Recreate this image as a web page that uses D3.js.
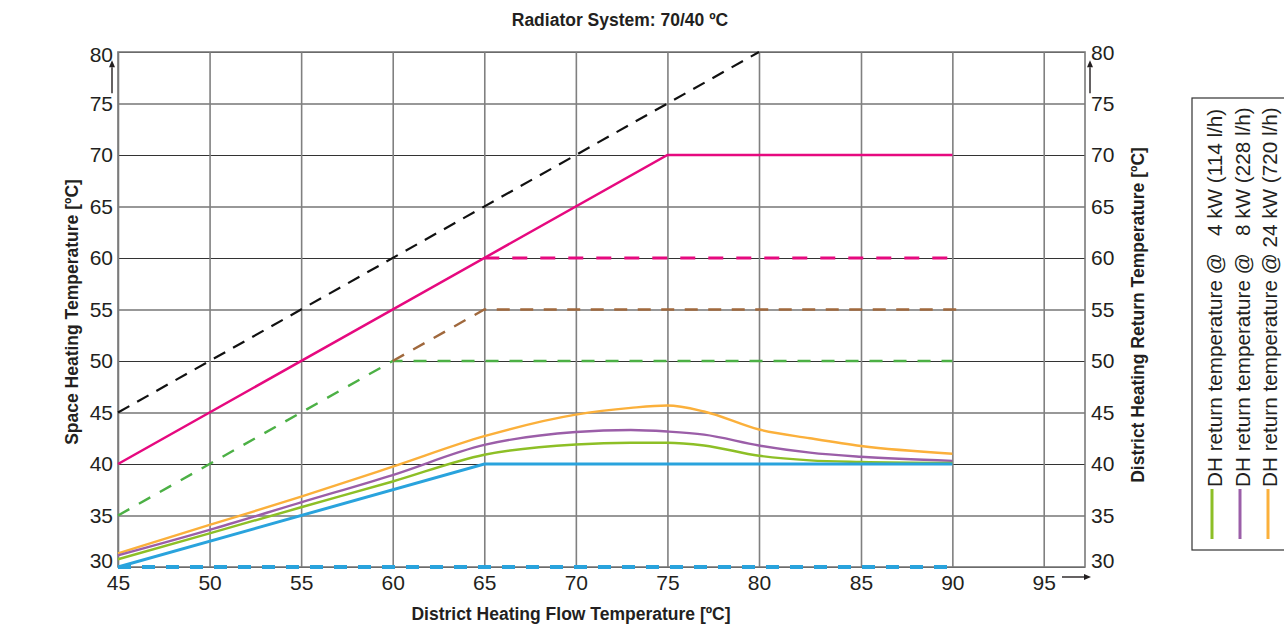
<!DOCTYPE html>
<html>
<head>
<meta charset="utf-8">
<script src="https://cdn.jsdelivr.net/npm/d3@7"></script>
<style>
  body { margin: 0; background: #fff; }
  svg text { font-family: "Liberation Sans", Arial, Helvetica, sans-serif; fill: #231f20; }
</style>
</head>
<body>
<svg id="chart" width="1284" height="628"></svg>
<script>
// axis ticks
var xTicks = [45, 50, 55, 60, 65, 70, 75, 80, 85, 90, 95];
var yTicks = [30, 35, 40, 45, 50, 55, 60, 65, 70, 75, 80];

// DH return temperature curves
var flowTemp = [45, 50, 55, 60, 65, 70, 73, 75, 77, 80, 82.5, 85, 90];
var ret4kW  = [30.75, 33.27, 35.8, 38.3, 40.9, 41.9, 42.07, 42.07, 41.8, 40.8, 40.35, 40.2, 40.1];
var ret8kW  = [31.13, 33.6, 36.28, 38.93, 41.85, 43.1, 43.3, 43.15, 42.85, 41.8, 41.1, 40.7, 40.3];
var ret24kW = [31.33, 34.08, 36.83, 39.74, 42.7, 44.8, 45.45, 45.68, 45.1, 43.35, 42.5, 41.75, 41.0];

// straight reference lines [flow, temp]
var flowEqualsLine = [[45, 45], [80, 80]];
var spaceHeatSolid = [[45, 40], [75, 70], [90, 70]];
var spaceHeat60 = [[65, 60], [90, 60]];
var spaceHeat55 = [[60, 50], [65, 55], [90.3, 55]];
var spaceHeat50 = [[45, 35], [60, 50], [90, 50]];
var returnSolid = [[45, 30], [65, 40], [90, 40]];
var returnMin = [[45, 30], [90, 30]];

var legendLabels = [
  "DH return temperature @   4 kW (114 l/h)",
  "DH return temperature @   8 kW (228 l/h)",
  "DH return temperature @ 24 kW (720 l/h)"
];
var legendColors = ["#8dbf26", "#9b5ea8", "#fbb03b"];

var margin = { top: 52, left: 118 },
  width = 967,
  height = 515;

var svg = d3.select("#chart");
var g = svg.append("g")
  .attr("transform", "translate(" + margin.left + "," + margin.top + ")");

// the original grid is a bit wider between 80 and 85
var x = d3.scaleLinear().domain([45, 80, 85, 97.26]).range([0, 641, 743, width]);
var y = d3.scaleLinear().domain([30, 80]).range([height, 0]);

// horizontal grid + left labels
var yAxis = g.append("g")
  .call(d3.axisLeft(y).tickValues(yTicks).tickSize(-width).tickPadding(5));
yAxis.select(".domain").remove();
yAxis.selectAll("line").attr("stroke", "#333").attr("stroke-width", 1.1);
yAxis.selectAll("text")
  .style("font-size", "21px")
  .attr("dy", function (d) { return d == 80 ? "0.47em" : d == 30 ? "0.03em" : "0.32em"; });

// vertical grid + bottom labels
var xAxis = g.append("g")
  .attr("transform", "translate(0," + height + ")")
  .call(d3.axisBottom(x).tickValues(xTicks).tickSize(-height).tickPadding(8).tickFormat(d3.format("d")));
xAxis.select(".domain").remove();
xAxis.selectAll("line").attr("stroke", "#808080").attr("stroke-width", 1.6);
xAxis.selectAll("text").style("font-size", "21px");

// right labels
var yAxisR = g.append("g")
  .attr("transform", "translate(" + width + ",0)")
  .call(d3.axisRight(y).tickValues(yTicks).tickSize(0).tickPadding(6));
yAxisR.select(".domain").remove();
yAxisR.selectAll("text")
  .style("font-size", "21px")
  .attr("dy", function (d) { return d == 80 ? "0.38em" : d == 30 ? "0.03em" : "0.32em"; });

g.append("rect")
  .attr("width", width)
  .attr("height", height)
  .attr("fill", "none")
  .attr("stroke", "#7a7a7a")
  .attr("stroke-width", 1.6);

var line = d3.line()
  .x(function (d) { return x(d[0]); })
  .y(function (d) { return y(d[1]); });

var curve = d3.line()
  .x(function (d) { return x(d[0]); })
  .y(function (d) { return y(d[1]); })
  .curve(d3.curveMonotoneX);

function drawLine(data, color, w, dash, gen) {
  g.append("path")
    .datum(data)
    .attr("fill", "none")
    .attr("stroke", color)
    .attr("stroke-width", w)
    .attr("stroke-dasharray", dash)
    .attr("d", gen || line);
}

drawLine(returnMin, "#29a3dd", 4, "13,11");
drawLine(spaceHeat50, "#4cb045", 2.4, "13,11");
drawLine(spaceHeat55, "#a0683c", 2.4, "13,10.5");
drawLine(spaceHeat60, "#e6097f", 2.8, "15,13");
drawLine(flowEqualsLine, "#111", 2.2, "13,9");
drawLine(spaceHeatSolid, "#e6097f", 2.5, null);

drawLine(d3.zip(flowTemp, ret24kW), legendColors[2], 2.4, null, curve);
drawLine(d3.zip(flowTemp, ret8kW), legendColors[1], 2.4, null, curve);
drawLine(d3.zip(flowTemp, ret4kW), legendColors[0], 2.4, null, curve);
drawLine(returnSolid, "#29a3dd", 3, null);

// axis arrows
function arrow(x1, y1, x2, y2) {
  var a = Math.atan2(y2 - y1, x2 - x1), s = 7, h = 3;
  svg.append("line")
    .attr("x1", x1).attr("y1", y1).attr("x2", x2 - Math.cos(a) * s).attr("y2", y2 - Math.sin(a) * s)
    .attr("stroke", "#231f20").attr("stroke-width", 1.4);
  svg.append("path")
    .attr("d", "M" + x2 + "," + y2 +
      "L" + (x2 - Math.cos(a) * s - Math.sin(a) * h) + "," + (y2 - Math.sin(a) * s + Math.cos(a) * h) +
      "L" + (x2 - Math.cos(a) * s + Math.sin(a) * h) + "," + (y2 - Math.sin(a) * s - Math.cos(a) * h) + "Z")
    .attr("fill", "#231f20");
}
arrow(margin.left - 6, margin.top + y(76), margin.left - 6, margin.top + y(79.2));
arrow(margin.left + width + 5, margin.top + y(76), margin.left + width + 5, margin.top + y(79.2));
arrow(margin.left + width - 23, margin.top + height + 10, margin.left + width + 6, margin.top + height + 10);

// titles
svg.append("text")
  .attr("x", 620).attr("y", 26)
  .attr("text-anchor", "middle")
  .style("font-size", "17.5px").style("font-weight", "bold")
  .text("Radiator System: 70/40 ºC");

svg.append("text")
  .attr("x", 571).attr("y", 620)
  .attr("text-anchor", "middle")
  .style("font-size", "17.5px").style("font-weight", "bold")
  .text("District Heating Flow Temperature [ºC]");

svg.append("text")
  .attr("transform", "translate(78,312) rotate(-90)")
  .attr("text-anchor", "middle")
  .style("font-size", "17.5px").style("font-weight", "bold")
  .text("Space Heating Temperature [ºC]");

svg.append("text")
  .attr("transform", "translate(1144,315) rotate(-90)")
  .attr("text-anchor", "middle")
  .style("font-size", "17.5px").style("font-weight", "bold")
  .text("District Heating Return Temperature [ºC]");

// legend
var legend = svg.append("g");
legend.append("rect")
  .attr("x", 1192).attr("y", 98)
  .attr("width", 200).attr("height", 452)
  .attr("fill", "none").attr("stroke", "#333").attr("stroke-width", 1.2);

legend.selectAll("legendLine")
  .data(legendColors)
  .enter()
  .append("line")
  .attr("x1", function (d, i) { return 1212 + i * 28; })
  .attr("x2", function (d, i) { return 1212 + i * 28; })
  .attr("y1", 489).attr("y2", 539)
  .attr("stroke", function (d) { return d; })
  .attr("stroke-width", 3);

legend.selectAll("legendText")
  .data(legendLabels)
  .enter()
  .append("text")
  .attr("transform", function (d, i) { return "translate(" + (1222 + i * 27.7) + ",487) rotate(-90)"; })
  .style("font-size", "20.7px")
  .style("white-space", "pre")
  .text(function (d) { return d; });
</script>
</body>
</html>
